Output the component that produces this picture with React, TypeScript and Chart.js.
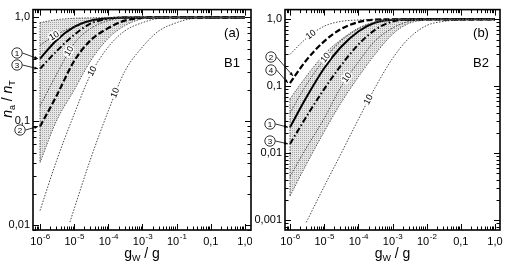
import React, { useEffect, useRef } from "react";
import { Chart, registerables } from "chart.js";
Chart.register(...registerables);

// ---------- data ----------
// shared g_W / g grid
const GW = [1e-6, 3e-6, 1e-5, 3e-5, 1e-4, 3e-4, 1e-3, 3e-3, 1e-2, 3e-2, 1e-1, 3e-1, 1];

// Panel (a) – B1
const A_UPPER = [0.89, 0.95, 0.98, 0.99, 1, 1, 1, 1, 1, 1, 1, 1, 1];
const A_LOWER = [0.04, 0.1, 0.2, 0.38, 0.63, 0.83, 0.97, 1, 1, 1, 1, 1, 1];
const A_TEN1 = [0.54, 0.68, 0.82, 0.92, 0.98, 1, 1, 1, 1, 1, 1, 1, 1];
const A_CURVE1 = [0.4, 0.6, 0.81, 0.93, 0.98, 1, 1, 1, 1, 1, 1, 1, 1];
const A_CURVE3 = [0.32, 0.47, 0.68, 0.87, 0.97, 1, 1, 1, 1, 1, 1, 1, 1];
const A_TEN2 = [0.14, 0.28, 0.56, 0.78, 0.93, 0.99, 1, 1, 1, 1, 1, 1, 1];
const A_CURVE2 = [0.089, 0.174, 0.38, 0.6, 0.79, 0.93, 0.99, 1, 1, 1, 1, 1, 1];
const A_TEN3 = [0.0138, 0.041, 0.117, 0.28, 0.52, 0.74, 0.89, 0.98, 1, 1, 1, 1, 1];
const A_TEN4_X = [7.5e-6, 3e-5, 1e-4, 3e-4, 1e-3, 3e-3, 1e-2, 3e-2, 1e-1, 1];
const A_TEN4 = [0.0107, 0.043, 0.126, 0.3, 0.52, 0.74, 0.89, 0.98, 1, 1];

// Panel (b) – B2
const B_UPPER = [0.065, 0.141, 0.3, 0.49, 0.74, 0.91, 0.99, 1, 1, 1, 1, 1, 1];
const B_LOWER = [0.0023, 0.0068, 0.021, 0.055, 0.138, 0.295, 0.6, 0.87, 0.98, 1, 1, 1, 1];
const B_TEN1 = [0.3, 0.52, 0.79, 0.93, 0.98, 1, 1, 1, 1, 1, 1, 1, 1];
const B_CURVE2 = [0.112, 0.245, 0.47, 0.71, 0.91, 0.99, 1, 1, 1, 1, 1, 1, 1];
const B_TEN2 = [0.04, 0.105, 0.25, 0.47, 0.72, 0.91, 0.99, 1, 1, 1, 1, 1, 1];
const B_CURVE1 = [0.0245, 0.068, 0.186, 0.38, 0.66, 0.89, 0.99, 1, 1, 1, 1, 1, 1];
const B_CURVE3 = [0.0138, 0.035, 0.091, 0.2, 0.42, 0.69, 0.93, 0.99, 1, 1, 1, 1, 1];
const B_TEN3 = [0.0045, 0.012, 0.033, 0.095, 0.23, 0.47, 0.74, 0.93, 0.99, 1, 1, 1, 1];
const B_TEN4 = [null, 0.00093, 0.0032, 0.0095, 0.032, 0.093, 0.26, 0.52, 0.81, 0.93, 0.98, 0.995, 1];

// tick labels
const A_X_TICKS = ["10^-6", "10^-5", "10^-4", "10^-3", "10^-1", "0,1", "1,0"];
const B_X_TICKS = ["10^-6", "10^-5", "10^-4", "10^-3", "10^-2", "0,1", "1,0"];
const A_Y_TICKS = ["0,01", "0,1", "1,0"];
const B_Y_TICKS = ["0,001", "0,01", "0,1", "1,0"];
const X_TITLE = ["g", "W", " / g"];
const Y_TITLE = ["n", "a", " / ", "n", "T"];

// ---------- styling ----------
const FONT = "'Liberation Sans', 'DejaVu Sans', sans-serif";
type Style = "band" | "edge" | "solid" | "dash" | "dashdot" | "thin";
const STYLES: Record<Style, { width: number; dash: number[]; color: string }> = {
  band: { width: 1, dash: [1.4, 1.4], color: "#555" },
  edge: { width: 1, dash: [1.4, 1.4], color: "#555" },
  solid: { width: 2, dash: [], color: "#000" },
  dash: { width: 2.2, dash: [6, 2.5], color: "#000" },
  dashdot: { width: 2, dash: [6, 2.5, 1.5, 2.5], color: "#000" },
  thin: { width: 0.9, dash: [1.5, 1.5], color: "#333" },
};

interface CurveDef { xs: number[]; ys: (number | null)[]; style: Style; }
interface PanelDef {
  width: number; left: number; padRight: number;
  xMin: number; xMax: number; yMin: number; yMax: number;
  xTicks: string[]; yTicks: string[]; yDecadeMin: number;
  curves: CurveDef[];
  tens: { curve: number; x: number }[];
  markers: { label: string; cx: number; cy: number; curve: number; x: number }[];
  tag: string; name: string; yTitle: boolean;
}

const PANEL_A: PanelDef = {
  width: 252, left: 0, padRight: 1,
  xMin: Math.pow(10, -6.205), xMax: Math.pow(10, 0.176),
  yMin: Math.pow(10, -2.047), yMax: Math.pow(10, 0.075),
  xTicks: A_X_TICKS, yTicks: A_Y_TICKS, yDecadeMin: -2,
  curves: [
    { xs: GW, ys: A_UPPER, style: "band" },
    { xs: GW, ys: A_LOWER, style: "band" },
    { xs: [GW[0], GW[0]], ys: [A_UPPER[0], A_LOWER[0]], style: "edge" },
    { xs: GW, ys: A_TEN1, style: "thin" },
    { xs: GW, ys: A_CURVE1, style: "solid" },
    { xs: GW, ys: A_CURVE3, style: "dashdot" },
    { xs: GW, ys: A_TEN2, style: "thin" },
    { xs: GW, ys: A_CURVE2, style: "dash" },
    { xs: GW, ys: A_TEN3, style: "thin" },
    { xs: A_TEN4_X, ys: A_TEN4, style: "thin" },
  ],
  tens: [
    { curve: 3, x: 2.6e-6 },
    { curve: 6, x: 7.1e-6 },
    { curve: 8, x: 3.4e-5 },
    { curve: 9, x: 1.6e-4 },
  ],
  markers: [
    { label: "1", cx: 17, cy: 53, curve: 4, x: 1e-6 },
    { label: "3", cx: 17, cy: 65, curve: 5, x: 1e-6 },
    { label: "2", cx: 20, cy: 130, curve: 7, x: 1e-6 },
  ],
  tag: "(a)", name: "B1", yTitle: true,
};

const PANEL_B: PanelDef = {
  width: 258, left: 252, padRight: 10,
  xMin: Math.pow(10, -6.146), xMax: Math.pow(10, 0.146),
  yMin: Math.pow(10, -3.146), yMax: Math.pow(10, 0.146),
  xTicks: B_X_TICKS, yTicks: B_Y_TICKS, yDecadeMin: -3,
  curves: [
    { xs: GW, ys: B_UPPER, style: "band" },
    { xs: GW, ys: B_LOWER, style: "band" },
    { xs: [GW[0], GW[0]], ys: [B_UPPER[0], B_LOWER[0]], style: "edge" },
    { xs: GW, ys: B_TEN1, style: "thin" },
    { xs: GW, ys: B_CURVE2, style: "dash" },
    { xs: GW, ys: B_TEN2, style: "thin" },
    { xs: GW, ys: B_CURVE1, style: "solid" },
    { xs: GW, ys: B_CURVE3, style: "dashdot" },
    { xs: GW, ys: B_TEN3, style: "thin" },
    { xs: GW, ys: B_TEN4, style: "thin" },
  ],
  tens: [
    { curve: 3, x: 4.1e-6 },
    { curve: 5, x: 1.1e-5 },
    { curve: 8, x: 4.7e-5 },
    { curve: 9, x: 2.0e-4 },
  ],
  markers: [
    { label: "2", cx: 19, cy: 57, curve: 4, x: 1.4e-6 },
    { label: "4", cx: 19, cy: 70, curve: 4, x: 1e-6 },
    { label: "1", cx: 18, cy: 124, curve: 6, x: 1e-6 },
    { label: "3", cx: 18, cy: 141, curve: 7, x: 1e-6 },
  ],
  tag: "(b)", name: "B2", yTitle: false,
};

function makePattern(ctx: CanvasRenderingContext2D): CanvasPattern | string {
  const c = document.createElement("canvas");
  c.width = 2; c.height = 2;
  const g = c.getContext("2d")!;
  g.fillStyle = "#e6e6e6"; g.fillRect(0, 0, 2, 2);
  g.fillStyle = "#a6a6a6"; g.fillRect(0, 0, 1, 1);
  return ctx.createPattern(c, "repeat") || "#d9d9d9";
}

function pointOn(chart: any, idx: number, xv: number) {
  const meta = chart.getDatasetMeta(idx);
  const px = chart.scales.x.getPixelForValue(xv);
  const p = meta.dataset.interpolate({ x: px }, "x");
  if (p && !Array.isArray(p) && isFinite(p.y)) return p;
  return meta.data[0];
}

function decor(def: PanelDef) {
  return {
    id: "decor",
    afterDraw(chart: any) {
      const ctx: CanvasRenderingContext2D = chart.ctx;
      const { left, right, top, bottom } = chart.chartArea;
      const xs = chart.scales.x, ys = chart.scales.y;
      ctx.save();

      // "10" curve labels
      ctx.font = `9px ${FONT}`;
      ctx.textAlign = "center"; ctx.textBaseline = "middle";
      for (const t of def.tens) {
        const meta = chart.getDatasetMeta(t.curve);
        const px = xs.getPixelForValue(t.x);
        const p = meta.dataset.interpolate({ x: px }, "x");
        const p1 = meta.dataset.interpolate({ x: px - 3 }, "x");
        const p2 = meta.dataset.interpolate({ x: px + 3 }, "x");
        if (!p || !p1 || !p2) continue;
        const ang = Math.atan2(p2.y - p1.y, p2.x - p1.x);
        ctx.save();
        ctx.translate(p.x, p.y); ctx.rotate(ang);
        ctx.lineWidth = 3; ctx.strokeStyle = "#fff"; ctx.strokeText("10", 0, 0);
        ctx.fillStyle = "#000"; ctx.fillText("10", 0, 0);
        ctx.restore();
      }

      // ticks (inward, all four sides)
      ctx.strokeStyle = "#000"; ctx.lineWidth = 1;
      const seg = (x1: number, y1: number, x2: number, y2: number) => {
        ctx.beginPath(); ctx.moveTo(x1, y1); ctx.lineTo(x2, y2); ctx.stroke();
      };
      for (let d = -8; d <= 1; d++) {
        for (let m = 1; m <= 9; m++) {
          const v = m * Math.pow(10, d);
          const len = m === 1 ? 6 : 3.5;
          if (v > xs.min && v < xs.max) {
            const p = Math.round(xs.getPixelForValue(v)) + 0.5;
            seg(p, bottom, p, bottom - len); seg(p, top, p, top + len);
          }
          if (v > ys.min && v < ys.max) {
            const p = Math.round(ys.getPixelForValue(v)) + 0.5;
            seg(left, p, left + len, p); seg(right, p, right - len, p);
          }
        }
      }
      ctx.lineWidth = 1.6;
      ctx.strokeRect(left, top, right - left, bottom - top);

      // x tick labels
      ctx.fillStyle = "#000"; ctx.textAlign = "left"; ctx.textBaseline = "alphabetic";
      def.xTicks.forEach((lab, k) => {
        const px = xs.getPixelForValue(Math.pow(10, -6 + k));
        const [base, exp] = lab.split("^");
        ctx.font = `11px ${FONT}`;
        const wb = ctx.measureText(base).width;
        ctx.font = `8px ${FONT}`;
        const we = exp ? ctx.measureText(exp).width : 0;
        const x0 = px - (wb + we) / 2;
        ctx.font = `11px ${FONT}`;
        ctx.fillText(base, x0, bottom + 15);
        if (exp) { ctx.font = `8px ${FONT}`; ctx.fillText(exp, x0 + wb + 0.5, bottom + 9); }
      });

      // x title
      {
        ctx.font = `14px ${FONT}`;
        const w0 = ctx.measureText(X_TITLE[0]).width;
        const w2 = ctx.measureText(X_TITLE[2]).width;
        ctx.font = `9px ${FONT}`;
        const w1 = ctx.measureText(X_TITLE[1]).width;
        let x = (left + right) / 2 - (w0 + w1 + w2) / 2;
        const yb = bottom + 28;
        ctx.font = `14px ${FONT}`; ctx.fillText(X_TITLE[0], x, yb); x += w0;
        ctx.font = `9px ${FONT}`; ctx.fillText(X_TITLE[1], x, yb + 3); x += w1;
        ctx.font = `14px ${FONT}`; ctx.fillText(X_TITLE[2], x, yb);
      }

      // y title
      if (def.yTitle) {
        ctx.save();
        ctx.translate(12, 99); ctx.rotate(-Math.PI / 2);
        const fonts = [`italic 14px ${FONT}`, `9px ${FONT}`, `14px ${FONT}`, `italic 14px ${FONT}`, `9px ${FONT}`];
        const offs = [0, 3, 0, 0, 3];
        const ws = Y_TITLE.map((s, i) => { ctx.font = fonts[i]; return ctx.measureText(s).width; });
        let x = -ws.reduce((a, b) => a + b, 0) / 2;
        Y_TITLE.forEach((s, i) => { ctx.font = fonts[i]; ctx.fillText(s, x, offs[i]); x += ws[i]; });
        ctx.restore();
      }

      // panel tag and name
      ctx.font = `13px ${FONT}`; ctx.textAlign = "center"; ctx.textBaseline = "middle";
      ctx.fillText(def.tag, right - 19, 33);
      ctx.fillText(def.name, right - 19, 63);

      // circled markers with arrows
      for (const mk of def.markers) {
        const tgt = pointOn(chart, mk.curve, mk.x);
        ctx.lineWidth = 0.8; ctx.strokeStyle = "#000";
        ctx.beginPath(); ctx.arc(mk.cx, mk.cy, 5.2, 0, Math.PI * 2); ctx.stroke();
        ctx.font = `8px ${FONT}`; ctx.fillText(mk.label, mk.cx, mk.cy + 0.5);
        const sx = mk.cx + 5.5, sy = mk.cy;
        const tx = tgt.x - 2, ty = tgt.y;
        ctx.beginPath(); ctx.moveTo(sx, sy); ctx.lineTo(tx, ty); ctx.stroke();
        const a = Math.atan2(ty - sy, tx - sx);
        ctx.beginPath();
        ctx.moveTo(tx, ty);
        ctx.lineTo(tx - 4 * Math.cos(a - 0.4), ty - 4 * Math.sin(a - 0.4));
        ctx.lineTo(tx - 4 * Math.cos(a + 0.4), ty - 4 * Math.sin(a + 0.4));
        ctx.closePath(); ctx.fill();
      }
      ctx.restore();
    },
  };
}

function buildChart(canvas: HTMLCanvasElement, def: PanelDef) {
  const ctx = canvas.getContext("2d")!;
  const pattern = makePattern(ctx);
  const datasets = def.curves.map((c, i) => {
    const pts = c.xs
      .map((x, j) => ({ x, y: c.ys[j] }))
      .filter((p) => p.y !== null && p.y !== undefined);
    const st = STYLES[c.style];
    return {
      data: pts,
      borderColor: st.color,
      borderWidth: st.width,
      borderDash: st.dash,
      borderCapStyle: "butt",
      pointRadius: 0,
      pointHoverRadius: 0,
      fill: i === 0 ? { target: 1 } : false,
      backgroundColor: i === 0 ? pattern : "rgba(0,0,0,0)",
      cubicInterpolationMode: c.style === "edge" ? "default" : "monotone",
      tension: 0,
    };
  });

  return new Chart(canvas, {
    type: "line",
    data: { datasets } as any,
    options: {
      animation: false,
      responsive: false,
      devicePixelRatio: 1,
      events: [],
      layout: { padding: { left: 0, right: def.padRight, top: 5, bottom: 0 }, autoPadding: false } as any,
      plugins: {
        legend: { display: false },
        tooltip: { enabled: false },
        filler: { drawTime: "beforeDatasetsDraw", propagate: false },
      },
      scales: {
        x: {
          type: "logarithmic",
          min: def.xMin, max: def.xMax,
          grid: { display: false, drawTicks: false },
          border: { display: false },
          ticks: { display: false },
          afterFit: (s: any) => { s.height = 39; },
        },
        y: {
          type: "logarithmic",
          min: def.yMin, max: def.yMax,
          grid: { display: false, drawTicks: false, tickLength: 0 },
          border: { display: false },
          afterBuildTicks: (s: any) => {
            s.ticks = def.yTicks.map((_, k) => ({ value: Math.pow(10, def.yDecadeMin + k) }));
          },
          ticks: {
            callback: (v: any) => def.yTicks[Math.round(Math.log10(Number(v))) - def.yDecadeMin],
            font: { family: FONT, size: 11 },
            color: "#000",
            padding: 3,
            autoSkip: false,
            maxRotation: 0,
            minRotation: 0,
          },
          afterFit: (s: any) => { s.width = 33; },
        },
      } as any,
    },
    plugins: [decor(def)],
  } as any);
}

function Panel({ def }: { def: PanelDef }) {
  const ref = useRef<HTMLCanvasElement>(null);
  useEffect(() => {
    const chart = buildChart(ref.current!, def);
    return () => chart.destroy();
  }, []);
  return (
    <canvas
      ref={ref}
      width={def.width}
      height={269}
      style={{ position: "absolute", left: def.left, top: 0, width: def.width, height: 269 }}
    />
  );
}

export default function App() {
  return (
    <div style={{ position: "fixed", left: 0, top: 0, width: 510, height: 269, background: "#fff", overflow: "hidden" }}>
      <Panel def={PANEL_A} />
      <Panel def={PANEL_B} />
    </div>
  );
}
